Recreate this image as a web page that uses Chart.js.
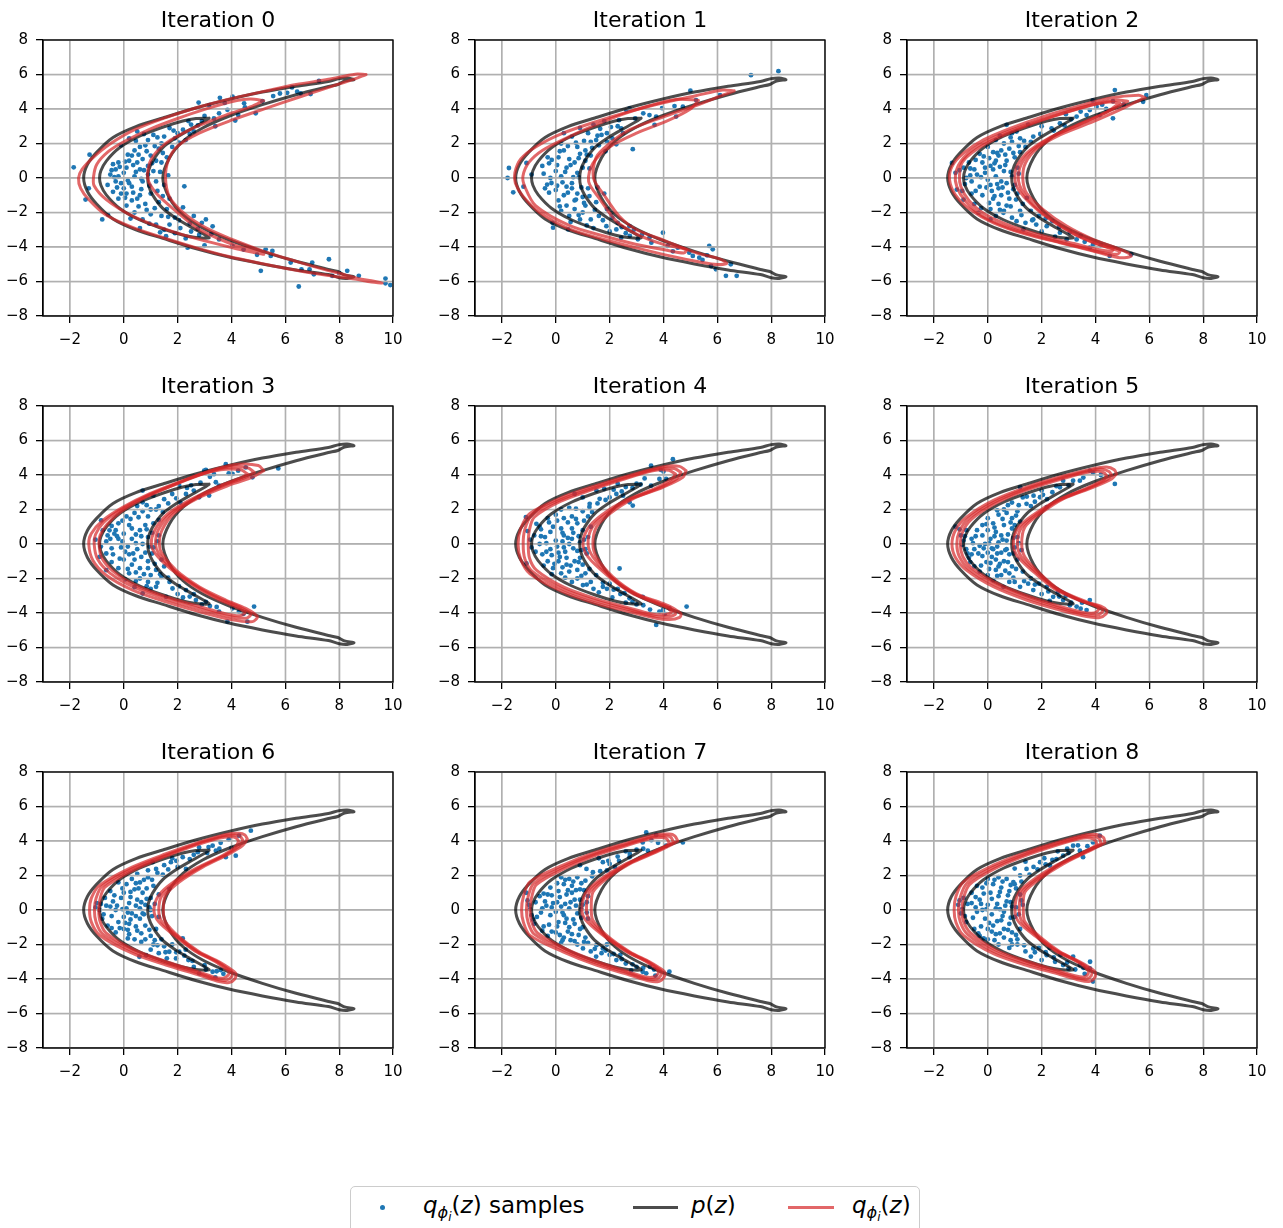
<!DOCTYPE html>
<html><head><meta charset="utf-8">
<script src="https://cdn.jsdelivr.net/npm/chart.js@4.4.0/dist/chart.umd.min.js"></script>
<style>
html,body{margin:0;padding:0;background:#fff;width:1283px;height:1228px;overflow:hidden;position:relative;font-family:"DejaVu Sans",sans-serif;}
canvas.panel{position:absolute;}
#legend{position:absolute;left:350px;top:1186px;width:570px;height:70px;border:1.3px solid #cccccc;border-radius:5px;box-sizing:border-box;background:#fff;}
#legend .it{position:absolute;font-size:23px;line-height:26px;top:5px;white-space:nowrap;color:#000;}
#legend i{font-style:italic;}
#legend sub{font-size:70%;vertical-align:-0.3em;line-height:0;}
#legend sub sub{font-size:75%;vertical-align:-0.25em;}
#legend .ln{position:absolute;height:3px;top:18.5px;}
#legend .dot{position:absolute;width:5px;height:5px;border-radius:50%;background:#1f77b4;left:29px;top:17.5px;}
</style></head>
<body>
<div id="legend">
  <div class="dot"></div>
  <div class="it" style="left:72px"><i>q</i><sub><i>ϕ</i><sub><i>i</i></sub></sub>(<i>z</i>) samples</div>
  <div class="ln" style="left:282px;width:45px;background:rgba(0,0,0,0.7)"></div>
  <div class="it" style="left:340px"><i>p</i>(<i>z</i>)</div>
  <div class="ln" style="left:437px;width:46px;background:rgba(214,39,40,0.7)"></div>
  <div class="it" style="left:501px"><i>q</i><sub><i>ϕ</i><sub><i>i</i></sub></sub>(<i>z</i>)</div>
</div>
<script>
// ---------- tick labels ----------
const xTickValues = [-2, 0, 2, 4, 6, 8, 10];
const yTickValues = [-8, -6, -4, -2, 0, 2, 4, 6, 8];
const iterationTitles = ['Iteration 0','Iteration 1','Iteration 2','Iteration 3','Iteration 4','Iteration 5','Iteration 6','Iteration 7','Iteration 8'];

// ---------- p(z) contours (same in every panel), flat [x,y,...] ----------
const pContourOuter = [8.55,5.7, 8.3,5.8, 8.0,5.76, 7.6,5.6, 6.4,5.32, 5.15,4.98, 3.9,4.55, 2.7,4.07, 1.45,3.48, 0.45,2.98, -0.4,2.35, -1.0,1.5, -1.35,0.78, -1.49,0,
 -1.35,-0.78, -1.0,-1.52, -0.4,-2.37, 0.45,-3.0, 1.45,-3.5, 2.7,-4.1, 3.9,-4.58, 5.15,-4.98, 6.4,-5.33, 7.6,-5.6, 8.0,-5.78, 8.3,-5.82, 8.55,-5.72,
 8.2,-5.62, 7.95,-5.42, 7.6,-5.3, 6.4,-4.83, 5.15,-4.25, 3.9,-3.58, 2.93,-2.9, 2.2,-2.13, 1.7,-1.17, 1.45,0,
 1.7,1.17, 2.2,2.13, 2.93,2.9, 3.9,3.58, 5.15,4.25, 6.4,4.83, 7.6,5.3, 7.95,5.42, 8.2,5.62, 8.55,5.7];
const pContourInner = [3.17,3.47, 2.68,3.45, 2.19,3.3, 1.44,2.94, 0.58,2.42, -0.16,1.75, -0.65,0.98, -0.85,0.42, -0.9,0,
 -0.85,-0.42, -0.65,-0.98, -0.16,-1.75, 0.58,-2.42, 1.44,-2.94, 2.19,-3.3, 2.68,-3.45, 3.17,-3.47,
 2.99,-3.28, 2.56,-2.9, 1.94,-2.33, 1.44,-1.75, 1.07,-0.98, 0.92,-0.42, 0.89,0,
 0.92,0.42, 1.07,0.98, 1.44,1.75, 1.94,2.33, 2.56,2.9, 2.99,3.28, 3.17,3.47];

// ---------- q(z) contours per iteration ----------
const q0a = [9.0,6.0, 8.6,6.02, 7.6,5.72, 6.4,5.42, 5.2,5.02, 3.9,4.57, 2.7,4.07, 1.5,3.47, 0.4,2.8, -0.5,1.98, -1.15,1.17, -1.55,0.5, -1.68,0,
 -1.6,-0.6, -1.3,-1.25, -0.7,-2.1, 0.3,-2.85, 1.5,-3.48, 2.7,-4.05, 3.9,-4.55, 5.2,-4.98, 6.4,-5.35, 7.6,-5.65, 8.6,-5.86, 9.2,-6.03, 9.6,-6.08,
 9.2,-5.96, 8.7,-5.83, 8.2,-5.6, 7.4,-5.28, 6.4,-4.83, 5.2,-4.25, 4.0,-3.55, 3.0,-2.85, 2.2,-2.0, 1.7,-1.1, 1.55,0,
 1.65,1.0, 2.0,1.85, 2.8,2.6, 4.0,3.35, 5.3,4.05, 6.5,4.68, 7.7,5.3, 8.5,5.7, 9.0,6.0];
const q0b = [5.2,4.48, 4.7,4.58, 4.0,4.42, 3.0,3.98, 2.0,3.45, 1.0,2.85, 0.0,2.1, -0.6,1.5, -1.0,0.8, -1.12,0.1, -1.1,-0.45,
 -0.65,-1.25, 0.33,-2.21, 1.57,-2.98, 2.8,-3.56, 4.04,-4.04, 4.8,-4.3, 5.2,-4.42,
 4.7,-4.15, 4.04,-3.85, 2.8,-2.98, 1.94,-1.92, 1.2,-0.87, 0.89,0, 1.01,1.06, 1.57,2.02, 2.56,2.88, 3.79,3.65, 4.78,4.17, 5.2,4.48];
const q1a = [6.63,5.05, 6.2,5.1, 5.2,4.77, 4.0,4.36, 2.75,3.86, 1.5,3.27, 0.27,2.6, -0.72,1.83, -1.3,1.1, -1.52,0.3, -1.5,-0.3,
 -1.22,-1.05, -0.6,-2.0, 0.5,-2.95, 1.75,-3.55, 3.0,-4.05, 4.2,-4.5, 5.45,-4.9, 6.0,-5.02, 6.35,-4.95,
 6.1,-4.7, 5.2,-4.33, 4.0,-3.6, 3.0,-3.0, 2.35,-2.2, 1.8,-1.0, 1.4,0,
 1.5,1.2, 2.0,2.0, 2.75,2.8, 4.0,3.55, 5.2,4.2, 6.2,4.8, 6.63,5.05];
const q1b = [5.3,4.5, 4.5,4.56, 3.5,4.2, 2.5,3.7, 1.5,3.1, 0.5,2.4, -0.5,1.6, -1.0,0.9, -1.22,0.1, -1.15,-0.5,
 -0.75,-1.6, 0.5,-2.75, 1.75,-3.35, 3.0,-3.85, 4.0,-4.15, 4.75,-4.35, 4.85,-4.15,
 4.0,-3.85, 3.0,-3.25, 2.25,-2.5, 1.65,-1.25, 1.22,-0.2, 1.38,0.85, 2.0,1.8, 3.0,2.6, 4.2,3.35, 5.0,4.0, 5.3,4.5];
const q2a = [5.85,4.65, 5.6,4.8, 4.5,4.62, 3.3,4.13, 2.06,3.56, 0.83,2.88, -0.16,2.21, -0.9,1.44, -1.33,0.67, -1.42,-0.1,
 -1.21,-0.96, -0.65,-1.83, 0.21,-2.6, 1.44,-3.27, 2.68,-3.75, 3.91,-4.23, 4.9,-4.62, 5.33,-4.52,
 4.9,-4.13, 3.91,-3.56, 2.93,-2.79, 2.06,-1.83, 1.44,-0.87, 1.3,0,
 1.4,0.87, 1.85,1.73, 2.68,2.5, 3.91,3.27, 5.02,4.04, 5.64,4.52, 5.85,4.65];
const q2b = [5.2,4.45, 4.8,4.52, 3.8,4.22, 2.7,3.72, 1.5,3.12, 0.4,2.47, -0.5,1.72, -1.0,0.97, -1.2,0.2, -1.15,-0.5,
 -0.85,-1.3, -0.2,-2.2, 0.8,-2.9, 2.0,-3.45, 3.2,-3.92, 4.2,-4.3, 4.8,-4.42, 4.9,-4.25,
 4.3,-3.95, 3.3,-3.3, 2.4,-2.45, 1.6,-1.4, 1.18,-0.4, 1.18,0.55, 1.55,1.45, 2.3,2.3, 3.4,3.1, 4.5,3.87, 5.2,4.45];
const q2c = [4.9,4.35, 4.5,4.4, 3.6,4.12, 2.5,3.6, 1.4,3.0, 0.4,2.35, -0.45,1.62, -0.95,0.9, -1.05,0.15, -1.0,-0.5,
 -0.7,-1.3, -0.1,-2.1, 0.9,-2.8, 2.0,-3.33, 3.2,-3.8, 4.1,-4.15, 4.6,-4.25, 4.65,-4.1,
 4.1,-3.85, 3.2,-3.25, 2.3,-2.4, 1.5,-1.35, 1.05,-0.4, 1.05,0.55, 1.45,1.45, 2.2,2.25, 3.3,3.05, 4.4,3.8, 4.9,4.35];
const q3a = [5.2,4.25, 5.0,4.55, 4.28,4.63, 3.42,4.35, 2.19,3.67, 0.95,2.9, -0.04,2.13, -0.78,1.37, -1.21,0.6, -1.3,0,
 -1.15,-0.94, -0.65,-1.81, 0.33,-2.67, 1.57,-3.35, 2.8,-3.92, 4.04,-4.4, 4.78,-4.5, 4.96,-4.21,
 4.53,-3.73, 3.79,-3.25, 2.8,-2.48, 1.94,-1.52, 1.42,-0.56, 1.32,0, 1.42,0.8, 1.85,1.75, 2.7,2.62, 4.04,3.48, 4.78,3.87, 5.2,4.25];
const q3b = [4.85,4.15, 4.6,4.42, 3.9,4.45, 3.0,4.1, 1.9,3.45, 0.8,2.75, -0.1,2.0, -0.75,1.25, -1.05,0.55, -1.1,0,
 -0.98,-0.85, -0.5,-1.7, 0.4,-2.52, 1.6,-3.2, 2.8,-3.75, 3.9,-4.2, 4.55,-4.3, 4.72,-4.05,
 4.3,-3.65, 3.6,-3.2, 2.7,-2.45, 1.85,-1.5, 1.3,-0.56, 1.18,0, 1.28,0.8, 1.72,1.72, 2.55,2.55, 3.8,3.45, 4.5,3.85, 4.85,4.15];
const q3c = [4.6,4.05, 4.35,4.3, 3.6,4.3, 2.7,3.95, 1.7,3.32, 0.7,2.62, -0.1,1.88, -0.62,1.15, -0.88,0.5, -0.92,0,
 -0.82,-0.8, -0.38,-1.6, 0.45,-2.4, 1.6,-3.08, 2.8,-3.62, 3.8,-4.05, 4.35,-4.15, 4.5,-3.95,
 4.1,-3.6, 3.4,-3.12, 2.6,-2.4, 1.75,-1.45, 1.17,-0.55, 1.02,0, 1.15,0.8, 1.6,1.7, 2.4,2.5, 3.6,3.4, 4.3,3.8, 4.6,4.05];
const q4a = [4.84,4.25, 4.6,4.5, 4.0,4.48, 2.74,3.98, 1.51,3.4, 0.27,2.73, -0.96,1.77, -1.3,0.9, -1.4,0,
 -1.3,-0.9, -0.96,-1.73, 0.27,-2.78, 1.51,-3.45, 2.74,-3.93, 3.73,-4.31, 4.22,-4.38, 4.6,-4.25, 4.65,-4.05, 4.4,-3.75, 3.98,-3.44,
 2.99,-2.87, 2.12,-1.9, 1.51,-0.75, 1.38,0, 1.51,0.98, 2.0,1.75, 2.86,2.62, 3.98,3.29, 4.72,3.87, 4.84,4.25];
const q4b = [4.65,4.15, 4.4,4.38, 3.8,4.36, 2.6,3.85, 1.4,3.25, 0.2,2.58, -0.9,1.65, -1.15,0.85, -1.21,0,
 -1.15,-0.85, -0.85,-1.62, 0.3,-2.65, 1.5,-3.3, 2.7,-3.8, 3.65,-4.18, 4.15,-4.22, 4.45,-4.05, 4.25,-3.72, 3.85,-3.45,
 2.9,-2.85, 2.0,-1.85, 1.38,-0.75, 1.2,0, 1.35,0.95, 1.85,1.72, 2.7,2.55, 3.85,3.25, 4.5,3.8, 4.65,4.15];
const q4c = [4.45,4.05, 4.2,4.28, 3.6,4.25, 2.45,3.72, 1.3,3.12, 0.15,2.45, -0.8,1.55, -0.98,0.8, -1.02,0,
 -0.98,-0.8, -0.72,-1.52, 0.32,-2.52, 1.5,-3.18, 2.65,-3.68, 3.55,-4.05, 4.05,-4.1, 4.3,-3.95, 4.1,-3.65, 3.75,-3.45,
 2.8,-2.82, 1.9,-1.8, 1.2,-0.75, 1.01,0, 1.2,0.92, 1.72,1.7, 2.55,2.5, 3.7,3.22, 4.3,3.75, 4.45,4.05];
const q5a = [4.78,4.06, 4.7,4.3, 4.41,4.46, 3.91,4.36, 2.68,3.88, 1.44,3.3, 0.21,2.53, -0.78,1.57, -1.2,0.8, -1.33,0,
 -1.2,-0.78, -0.78,-1.53, 0.21,-2.48, 1.44,-3.25, 2.68,-3.83, 3.67,-4.21, 4.16,-4.26, 4.4,-4.05, 4.41,-3.83, 4.2,-3.6,
 3.67,-3.35, 2.68,-2.67, 1.94,-1.71, 1.38,-0.75, 1.26,0, 1.38,0.98, 1.94,1.75, 2.8,2.62, 3.91,3.29, 4.6,3.77, 4.78,4.06];
const q5b = [4.6,4.0, 4.5,4.2, 4.25,4.34, 3.75,4.25, 2.55,3.75, 1.35,3.16, 0.2,2.4, -0.7,1.5, -1.05,0.75, -1.15,0,
 -1.05,-0.75, -0.7,-1.45, 0.25,-2.36, 1.45,-3.12, 2.65,-3.7, 3.6,-4.08, 4.05,-4.12, 4.25,-3.95, 4.25,-3.78, 4.05,-3.58,
 3.55,-3.33, 2.6,-2.65, 1.85,-1.7, 1.25,-0.75, 1.1,0, 1.25,0.95, 1.82,1.72, 2.68,2.57, 3.8,3.27, 4.45,3.75, 4.6,4.0];
const q5c = [4.42,3.95, 4.32,4.12, 4.1,4.22, 3.6,4.13, 2.45,3.63, 1.3,3.05, 0.2,2.28, -0.62,1.42, -0.93,0.72, -1.02,0,
 -0.93,-0.72, -0.6,-1.38, 0.3,-2.25, 1.45,-3.0, 2.6,-3.58, 3.5,-3.95, 3.95,-4.0, 4.1,-3.85, 4.1,-3.7, 3.9,-3.52,
 3.45,-3.3, 2.5,-2.62, 1.75,-1.68, 1.12,-0.75, 0.95,0, 1.12,0.92, 1.7,1.7, 2.58,2.53, 3.7,3.25, 4.3,3.72, 4.42,3.95];
const q6a = [4.59,4.12, 4.5,4.35, 4.28,4.45, 3.79,4.38, 2.8,3.93, 1.57,3.26, 0.33,2.5, -0.9,1.43, -1.2,0.7, -1.27,0,
 -1.2,-0.72, -0.9,-1.46, 0.33,-2.52, 1.57,-3.19, 2.8,-3.77, 3.54,-4.15, 3.91,-4.2, 4.12,-4.0, 4.16,-3.67, 3.9,-3.35,
 3.54,-3.0, 2.8,-2.42, 2.06,-1.56, 1.55,-0.69, 1.47,0, 1.55,0.85, 2.06,1.62, 2.93,2.48, 3.91,3.25, 4.41,3.73, 4.59,4.12];
const q6b = [4.42,4.05, 4.32,4.27, 4.12,4.35, 3.65,4.27, 2.68,3.82, 1.5,3.14, 0.3,2.38, -0.8,1.38, -1.03,0.68, -1.09,0,
 -1.03,-0.7, -0.78,-1.4, 0.35,-2.4, 1.55,-3.07, 2.75,-3.65, 3.45,-4.02, 3.8,-4.07, 4.0,-3.88, 4.02,-3.62, 3.78,-3.32,
 3.45,-2.98, 2.72,-2.4, 2.0,-1.55, 1.42,-0.69, 1.3,0, 1.42,0.85, 1.95,1.62, 2.82,2.46, 3.8,3.22, 4.28,3.7, 4.42,4.05];
const q6c = [4.27,3.98, 4.17,4.18, 3.98,4.25, 3.52,4.16, 2.57,3.7, 1.43,3.03, 0.3,2.27, -0.7,1.32, -0.88,0.65, -0.93,0,
 -0.88,-0.67, -0.66,-1.33, 0.37,-2.3, 1.53,-2.96, 2.7,-3.54, 3.37,-3.9, 3.7,-3.95, 3.88,-3.77, 3.9,-3.56, 3.67,-3.28,
 3.36,-2.95, 2.64,-2.37, 1.92,-1.53, 1.3,-0.69, 1.12,0, 1.3,0.85, 1.85,1.62, 2.72,2.44, 3.7,3.19, 4.15,3.66, 4.27,3.98];
const q7a = [4.53,4.02, 4.42,4.3, 4.22,4.4, 3.73,4.36, 2.74,3.93, 1.51,3.36, 0.27,2.6, -0.96,1.63, -1.2,0.8, -1.27,0,
 -1.2,-0.72, -0.96,-1.47, 0.27,-2.43, 1.51,-3.2, 2.74,-3.77, 3.48,-4.12, 3.85,-4.13, 4.02,-3.9, 4.04,-3.58, 3.8,-3.3,
 3.48,-3.0, 2.74,-2.42, 1.88,-1.46, 1.38,-0.6, 1.32,0, 1.38,1.04, 1.88,1.81, 2.74,2.67, 3.73,3.35, 4.35,3.83, 4.53,4.02];
const q7b = [4.37,3.95, 4.27,4.22, 4.07,4.3, 3.6,4.24, 2.62,3.8, 1.43,3.22, 0.25,2.47, -0.82,1.55, -1.03,0.75, -1.09,0,
 -1.03,-0.7, -0.8,-1.4, 0.3,-2.32, 1.5,-3.08, 2.68,-3.65, 3.4,-4.0, 3.75,-4.0, 3.9,-3.8, 3.92,-3.55, 3.7,-3.28,
 3.4,-2.98, 2.66,-2.4, 1.8,-1.45, 1.26,-0.6, 1.14,0, 1.25,1.02, 1.77,1.8, 2.63,2.64, 3.62,3.32, 4.22,3.78, 4.37,3.95];
const q7c = [4.22,3.88, 4.12,4.13, 3.93,4.2, 3.48,4.13, 2.52,3.68, 1.36,3.1, 0.25,2.35, -0.72,1.47, -0.9,0.7, -0.96,0,
 -0.9,-0.67, -0.68,-1.33, 0.33,-2.22, 1.5,-2.97, 2.62,-3.54, 3.33,-3.88, 3.65,-3.88, 3.8,-3.7, 3.8,-3.5, 3.6,-3.25,
 3.32,-2.95, 2.58,-2.37, 1.72,-1.43, 1.12,-0.6, 0.97,0, 1.12,1.0, 1.66,1.78, 2.52,2.6, 3.5,3.28, 4.1,3.73, 4.22,3.88];
const q8a = [4.35,3.92, 4.3,4.2, 4.04,4.38, 3.67,4.36, 2.68,3.96, 1.44,3.36, 0.21,2.6, -0.9,1.63, -1.18,0.8, -1.25,0,
 -1.18,-0.72, -0.9,-1.47, 0.21,-2.53, 1.44,-3.2, 2.68,-3.74, 3.42,-4.07, 3.79,-4.13, 3.98,-3.9, 3.98,-3.58, 3.75,-3.3,
 3.42,-3.0, 2.68,-2.42, 1.94,-1.56, 1.38,-0.69, 1.32,0, 1.38,1.04, 1.94,1.81, 2.8,2.67, 3.67,3.35, 4.16,3.73, 4.35,3.92];
const q8b = [4.2,3.86, 4.15,4.12, 3.92,4.28, 3.55,4.25, 2.58,3.84, 1.38,3.23, 0.2,2.47, -0.78,1.55, -1.02,0.75, -1.09,0,
 -1.02,-0.7, -0.76,-1.4, 0.25,-2.42, 1.43,-3.08, 2.63,-3.62, 3.35,-3.95, 3.68,-4.0, 3.85,-3.8, 3.85,-3.55, 3.65,-3.27,
 3.33,-2.97, 2.6,-2.4, 1.86,-1.55, 1.28,-0.69, 1.17,0, 1.27,1.02, 1.83,1.8, 2.68,2.64, 3.55,3.3, 4.03,3.68, 4.2,3.86];
const q8c = [4.05,3.8, 4.0,4.04, 3.8,4.18, 3.43,4.14, 2.48,3.72, 1.32,3.11, 0.2,2.35, -0.68,1.47, -0.9,0.7, -0.96,0,
 -0.9,-0.67, -0.64,-1.33, 0.3,-2.32, 1.43,-2.97, 2.58,-3.5, 3.28,-3.83, 3.58,-3.88, 3.73,-3.7, 3.73,-3.52, 3.55,-3.24,
 3.25,-2.94, 2.52,-2.37, 1.78,-1.53, 1.15,-0.69, 1.01,0, 1.15,1.0, 1.72,1.78, 2.56,2.6, 3.43,3.25, 3.9,3.63, 4.05,3.8];

// ---------- q(z) samples per iteration ----------
const samples0 = [-1.86,0.62, -1.27,1.35, -1.42,-1.25, -1.3,-0.6, -0.8,-2.4, -0.59,-2.12,
 2.78,4.37, 3.57,4.65, 4.04,4.71, 4.47,4.33, 4.9,3.75, 4.14,3.33, 3.54,3.75, 3.17,4.23, 2.9,3.3, 2.5,3.1, 2.2,2.8,
 2.25,-0.48, 3.05,-2.4, 2.37,-4.04, 1.57,-3.37, 3.54,-3.56, 4.04,-3.94, 5.27,-4.13, 5.52,-4.23, 5.46,-4.52, 5.09,-5.38, 6.5,-6.29, 7.0,-4.9, 7.62,-4.71, 7.06,-5.58, 7.74,-5.67, 8.3,-5.38, 8.73,-5.67, 9.72,-5.83, 9.72,-6.1, 9.9,-6.21, 6.6,-5.3,
 6.94,4.87, 6.07,4.94, 6.44,5.0, 6.57,4.9, 7.25,5.63, 5.8,4.9, 4.5,4.1, 3.4,3.0,
 -0.4,0.8, -0.3,0.5, -0.2,0.9, 0.0,0.3, -0.5,0.2, -0.3,-0.2, 0.1,0.6, 0.2,1.0, 0.4,1.6, 0.6,1.8, 0.8,1.9, 1.0,1.3, 1.2,1.0, 1.4,0.9, 1.6,1.2, 1.8,1.8, 1.3,1.7, 0.9,2.2, 1.1,2.5, 1.5,2.4, 1.7,2.9, 2.0,2.6, 2.3,2.2, 0.5,2.7, 0.2,2.3, -0.1,1.9, 0.3,1.3, 0.7,1.1, 0.6,0.5, 0.9,0.2, 1.2,-0.2, 1.5,-0.4, 0.3,-0.5, 0.1,-0.9, 0.5,-1.2, 0.8,-1.5, 0.6,-1.0, 1.0,-0.9, 1.3,-1.4, 1.6,-1.8, 1.9,-2.3, 1.4,-2.2, 1.0,-2.1, 0.7,-2.4, 0.4,-2.0, 0.1,-1.6, -0.2,-1.2, -0.4,-0.8, 1.7,-2.7, 2.1,-2.9, 2.5,-3.1, 2.8,-3.3, 1.2,-2.7, 0.6,-2.9, 1.9,-3.2, 0.9,0.7, 0.4,0.1, -0.6,-0.4, -0.1,-0.3, 0.7,-0.2, 1.1,0.4, 0.2,-0.3, 0.5,0.9, -0.2,0.1, 1.4,2.0, 2.6,2.7, 3.0,3.6, 2.4,3.3, 1.9,2.3, 0.0,-0.6, 1.7,-1.2, 2.2,-1.7, 2.6,-2.2, 3.3,-2.8, 2.9,-2.6, 1.5,-3.0, 2.3,-3.5, 3.0,-3.9, 0.3,-1.3, -0.1,-0.9,
 -0.45,0.45, -0.15,0.65, 0.05,0.95, 0.35,0.75, 0.15,1.35, 0.55,1.35, 0.85,1.55, 1.15,1.85, 1.45,1.45, 1.05,0.85, 0.75,0.45, 0.45,0.35, 0.15,-0.15, -0.35,0.05, -0.25,-0.55, 0.05,-1.15, 0.35,-0.85, 0.65,-0.65, 0.95,-0.45, 1.25,-0.75, 1.45,-1.05, 1.15,-1.75, 0.85,-1.85, 0.55,-1.65, 0.25,-2.35, 1.65,-2.25, 2.05,-2.45, 1.35,-3.15, 0.95,-2.65, 2.45,-2.65, 2.75,-2.95, 3.25,-3.25, 2.05,2.05, 2.45,2.55, 2.75,3.05, 1.85,2.75, 1.25,2.35, 0.75,2.55, 0.45,2.15, 3.35,3.45, 3.85,3.95, 4.25,3.65, 3.75,4.35, 5.15,4.45, 6.25,5.25, 5.55,4.75, 4.45,-4.15, 4.95,-4.45, 6.2,-4.9, 6.9,-5.3, 8.0,-5.5, 0.65,-0.05, 1.35,0.35, 1.65,0.15];
const samples1 = [-1.74,0.58, -1.79,0.0, -1.58,-0.83, -1.09,0.87, -1.2,-0.5, -0.9,0.2, -0.32,-0.38, -0.16,-0.29, -0.1,-2.88, -0.12,-2.6, 0.46,-2.98, 2.86,1.67, 7.25,5.96, 8.27,6.19, 6.1,4.81, 5.0,5.06, 5.21,4.52, 4.41,4.17, 4.72,4.13, 4.47,3.56, 3.73,3.56, 3.67,3.08, 3.48,3.65, 2.74,4.04, 2.62,3.94, 2.43,2.88,
 3.48,-3.46, 4.16,-3.94, 4.53,-4.04, 4.96,-4.33, 5.33,-4.62, 5.7,-3.94, 5.83,-4.13, 5.95,-5.29, 5.77,-5.1, 6.32,-5.67, 6.72,-5.67, 6.5,-5.0, 5.09,-4.52, 5.62,-4.48, 3.98,-3.17, 2.74,-2.79, 2.25,-2.98, 1.88,-2.79, 2.43,-3.46,
 0.1,1.2, 0.3,1.6, 0.5,1.1, 0.7,0.9, 0.9,1.4, 1.1,1.6, 1.3,2.1, 1.5,2.2, 1.7,2.5, 1.9,2.6, 2.1,2.3, 1.6,1.9, 1.2,2.6, 0.9,2.9, 1.4,3.1, 1.8,3.3, 2.3,3.0, 0.6,2.4, 0.2,2.0, -0.3,1.2, -0.5,0.7, 0.0,0.4, 0.2,0.1, 0.4,-0.5, 0.6,-0.3, 0.8,-0.9, 1.0,-1.1, 1.2,-0.6, 0.3,-1.0, 0.1,-1.3, 0.4,-1.6, 0.7,-1.8, 1.0,-2.0, 1.3,-2.4, 1.6,-2.2, 1.9,-1.8, 2.1,-2.3, 0.9,-2.4, 0.5,-2.2, 0.2,-1.9, 1.5,-1.4, 0.8,0.3, 1.0,0.6, 0.4,0.6, -0.2,0.0, 0.0,-0.7, 1.8,-0.9, 2.3,-2.6, 2.6,-3.2, 2.9,-3.0, 3.2,-3.3, 1.4,-2.9, 2.0,-3.1, 0.7,-1.3, 1.1,1.0, 0.3,2.6, 1.9,2.1, 2.5,2.6, 0.8,1.8, 1.3,1.3, -0.4,-0.6, 0.6,-0.6, 1.1,-1.6,
 -0.45,0.25, -0.25,0.85, 0.05,0.75, 0.35,0.35, 0.55,0.75, 0.85,1.15, 1.15,1.35, 1.35,1.75, 1.05,2.15, 0.75,2.05, 0.45,1.85, 0.15,1.55, -0.15,1.05, 0.25,-0.25, 0.45,-0.85, 0.75,-1.25, 1.05,-1.45, 1.25,-1.05, 0.95,-0.55, 0.65,0.05, 0.05,-0.45, -0.25,-0.85, 0.15,-1.65, 0.55,-2.55, 0.85,-2.15, 1.15,-2.75, 1.75,-2.45, 2.05,-2.05, 1.45,-1.85, 2.45,-2.85, 2.75,-3.35, 3.05,-3.55, 1.65,2.85, 2.05,2.95, 2.35,3.35, 2.95,3.45, 3.25,3.75, 3.95,4.05, 1.55,2.45, 1.85,1.55, 2.25,1.95, 1.25,0.55, 0.85,0.05, 1.55,-0.55, 3.55,-3.75, 4.35,-4.25, 5.45,-4.75];
const samples2 = [4.72,5.1, 5.89,4.81, 5.77,4.42, 4.65,3.46, 4.16,3.65, 4.04,4.13, 3.79,3.94, 3.67,3.65, 3.3,3.56, 2.68,3.17, 2.37,2.88, 1.69,2.4, 0.7,3.08, 1.07,2.69, 3.9,4.5, 4.4,4.0, 3.1,3.4, 2.9,3.7, 2.0,3.0, 1.5,3.1, 1.2,2.3, 0.9,2.6,
 5.33,-4.42, 4.53,-4.52, 3.91,-3.85, 3.79,-4.04, 3.3,-3.56, 2.93,-3.56, 2.68,-3.17, 2.19,-2.79, 1.69,-2.4, 1.32,-2.98, 1.07,-2.5, 0.58,-2.02, -0.35,-2.02, 4.2,-3.9, 3.6,-3.7, 2.5,-3.4, 2.0,-3.1, 1.8,-2.7, 1.4,-2.6, 0.9,-2.3, 0.3,-2.2, 0.1,-1.8, 2.4,-2.5, 1.2,-1.9, 0.7,-1.6,
 -1.33,0.87, -1.15,-0.67, -0.9,-1.25, -1.2,0.3, -0.9,0.6, -0.7,0.9, -0.5,0.5, -0.4,0.2, -0.6,-0.2, -0.3,-0.5, -0.1,0.3, 0.1,0.7, 0.3,1.0, 0.2,1.5, 0.5,1.6, 0.8,1.7, 1.0,1.2, 1.2,1.5, 1.4,1.8, 0.6,2.0, 0.3,2.2, 0.0,1.8, -0.3,1.4, 0.6,0.4, 0.3,0.1, 0.1,-0.4, 0.4,-0.6, 0.7,-0.3, 0.9,0.1, 0.5,-1.0, 0.2,-1.2, -0.2,-1.0, 0.8,-1.2, 1.1,-0.9, 1.3,-1.5, 1.6,-1.9, 0.4,-1.5, -0.5,-1.5, 0.0,-0.1, 0.2,0.5, -0.2,0.9, 0.7,1.0, 1.1,0.6, 0.4,1.3, -0.8,0.0, -0.6,-0.9, 1.0,-0.4, 1.6,2.1, 0.9,2.1, 1.9,-2.2, 0.6,-1.9, 0.1,-2.4, -0.1,0.6, 0.5,-0.2,
 -1.05,0.45, -0.85,-0.35, -0.65,0.15, -0.45,-0.75, -0.25,0.05, -0.05,-0.55, 0.15,-0.75, 0.35,-0.35, 0.55,-0.55, 0.75,-0.85, 0.95,-0.65, 0.85,0.35, 0.65,0.75, 0.45,0.65, 0.25,0.85, 0.05,1.15, -0.15,1.25, -0.45,1.05, -0.65,0.55, 0.35,1.45, 0.65,1.35, 0.95,1.45, 1.15,1.85, 0.85,2.35, 0.45,2.45, 1.35,2.15, 1.05,-1.25, 1.45,-1.15, 1.25,-2.15, 0.85,-1.65, 0.45,-1.85, 0.05,-1.45, -0.25,-1.75, 1.65,-2.45, 2.15,-2.35, 2.65,-2.85, 3.05,-3.15, 3.45,-3.35, 1.95,2.55, 2.45,2.75, 2.85,3.05, 3.45,3.85, 4.25,4.25, 4.65,4.45, 5.05,4.25, -0.95,-0.75, 1.15,0.25, 0.25,-1.05];
const samples3 = [3.79,4.63, 2.99,4.25, 3.05,4.29, 3.42,3.58, 3.54,3.38, 4.04,4.06, 4.53,4.44, 4.78,3.87, 5.74,4.38, 2.06,3.38, 2.31,2.9, 2.8,2.71, 3.17,2.81, 0.7,3.1, 0.7,2.42, 2.5,3.4, 1.8,2.9, 1.5,2.6, 1.1,2.8, 2.1,2.4, 3.2,3.9, 2.6,3.1, 1.3,2.2, 3.9,4.1,
 4.84,-3.63, 4.04,-3.73, 3.85,-4.5, 4.59,-4.5, 3.54,-3.92, 4.28,-3.92, 2.68,-3.25, 2.31,-2.67, 1.81,-2.58, 0.7,-2.87, 1.2,-2.48, 1.57,-3.06, 2.9,-3.5, 2.2,-3.1, 1.0,-2.6, 0.4,-2.5, 1.7,-2.2, 2.0,-2.9, 1.4,-1.9, 0.9,-2.2, 3.2,-3.6, 2.6,-2.9,
 -0.84,1.37, -0.78,0.79, -0.53,0.79, -0.35,0.6, -0.9,-0.75, -0.65,-1.52, -0.5,0.3, -0.3,0.8, -0.6,0.5, -0.2,1.2, 0.1,1.6, 0.4,1.8, 0.7,1.9, 0.9,1.6, 1.1,1.2, 1.3,1.4, 1.0,2.0, 0.5,2.2, 0.2,1.1, 0.0,0.6, 0.3,0.3, 0.6,0.8, 0.9,0.4, 1.1,-0.2, 0.8,-0.5, 0.5,-0.3, 0.2,-0.6, 0.0,-0.9, 0.3,-1.2, 0.6,-1.4, 0.9,-1.0, 1.2,-1.5, 1.4,-0.9, 1.0,-1.8, 0.6,-2.0, 0.2,-1.7, -0.2,-1.4, -0.4,-0.6, -0.1,-0.2, 0.4,-0.9, 1.3,0.5, 0.7,0.0, 0.3,0.9, -0.2,0.3, 1.5,-1.3, 0.8,1.1, 1.2,2.0, 0.9,-1.4,
 -1.05,0.25, -0.85,-0.15, -0.65,0.15, -0.45,-0.25, -0.25,0.45, -0.05,0.15, 0.15,-0.15, 0.45,0.05, 0.65,0.45, 0.85,0.85, 1.05,0.65, 1.25,0.15, 1.05,-0.55, 0.65,-0.75, 0.35,-0.55, 0.05,-0.45, -0.15,-0.85, -0.45,-1.05, 0.15,-1.45, 0.45,-1.65, 0.75,-1.75, 1.15,-1.15, 1.35,-1.75, 1.65,-1.95, 1.25,-2.25, 0.85,-2.45, 0.45,-2.15, 0.05,-2.05, -0.45,1.05, -0.05,1.35, 0.25,1.45, 0.55,1.55, 0.85,2.25, 1.45,1.85, 1.65,2.35, 1.95,2.65, 2.35,3.25, 2.85,3.55, 3.35,4.05, 4.25,4.25, 2.05,-2.45, 2.45,-3.05, 3.05,-3.35, 3.45,-3.65, 4.45,-4.05, 0.45,0.55, 0.95,-0.15, -0.65,-0.55];
const samples4 = [3.54,4.54, 4.35,4.92, 3.85,3.77, 4.1,3.77, 3.54,3.38, 2.86,2.23, 2.74,2.42, 2.25,2.9, 1.63,2.62, 1.26,2.33, 1.51,3.1, 2.6,3.3, 2.3,3.5, 2.0,2.7, 3.0,3.5, 3.3,3.8, 4.0,4.2, 1.8,3.2, 1.0,2.7, 0.7,2.9, 2.5,2.8, 3.9,4.3,
 3.73,-4.69, 3.98,-3.83, 3.85,-3.92, 4.86,-3.63, 4.22,-3.73, 3.23,-3.06, 2.74,-3.15, 2.37,-1.42, 1.75,-2.48, 1.01,-2.38, 2.4,-2.9, 2.1,-3.1, 1.6,-2.8, 2.0,-2.3, 1.3,-2.2, 2.6,-3.4, 3.0,-3.5, 1.9,-2.6, 2.3,-2.6, 1.4,-2.6, 0.8,-2.0, 3.5,-3.8,
 -1.11,1.56, -1.09,-1.13, -0.72,1.17, -0.8,0.5, -0.9,-0.2, -0.6,0.0, -0.4,0.4, -0.5,-0.6, -0.3,-1.0, -0.1,-1.4, 0.2,-1.7, 0.5,-1.6, 0.8,-1.5, 1.0,-1.2, 0.7,-1.0, 0.4,-0.8, 0.1,-0.5, -0.2,-0.3, 0.0,0.2, 0.3,0.5, 0.6,0.3, 0.9,0.1, 1.1,-0.3, 0.8,-0.4, 0.5,0.0, 0.2,0.9, -0.1,1.0, -0.3,1.5, 0.0,1.7, 0.3,1.5, 0.6,1.6, 0.8,1.2, 1.0,0.8, 1.2,1.6, 1.0,1.9, 0.5,2.1, 0.2,2.0, -0.2,0.7, 0.4,-1.2, 1.3,1.0, 0.6,0.9, 0.1,-1.0, 1.2,0.4, 0.9,-0.8, -0.6,1.0, 0.3,-0.2, 1.5,-1.8, 1.1,-1.7, 0.6,-2.2,
 -1.05,0.75, -0.95,0.25, -0.75,-0.45, -0.55,0.45, -0.35,0.05, -0.15,-0.65, 0.05,-0.15, 0.25,0.15, 0.45,0.35, 0.65,0.65, 0.85,0.45, 1.05,0.25, 1.15,-0.55, 0.95,-0.35, 0.65,-0.25, 0.35,-0.45, 0.15,-0.75, -0.05,-1.15, 0.25,-1.35, 0.55,-1.25, 0.85,-1.05, 1.25,-1.45, 0.95,-1.85, 0.35,-1.95, -0.15,-1.75, -0.45,-1.25, -0.55,0.85, -0.25,1.25, 0.05,1.35, 0.45,1.25, 0.75,1.45, 1.05,1.35, 1.35,1.85, 0.75,2.05, 1.25,2.15, 1.55,2.35, 1.85,2.55, 2.15,3.15, 2.45,3.05, 2.85,3.25, 3.15,3.45, 1.15,-2.35, 1.75,-2.25, 2.15,-2.65, 2.55,-2.85, 2.85,-3.35, 3.25,-3.55, 4.05,-4.05, 0.25,0.65, -0.35,-0.45];
const samples5 = [4.72,3.48, 3.91,4.15, 3.79,4.25, 3.42,3.67, 3.17,3.67, 2.68,3.29, 2.8,3.67, 2.19,2.13, 1.94,2.71, 1.2,3.29, 1.44,2.33, 2.4,3.0, 2.0,3.1, 1.7,2.8, 2.2,2.6, 1.3,2.7, 3.0,3.4, 4.2,4.0, 0.9,2.4, 1.6,2.2,
 3.67,-3.83, 3.3,-3.63, 3.79,-3.25, 2.8,-3.25, 2.43,-3.06, 2.19,-2.48, 1.69,-2.67, 1.2,-2.48, 0.58,-2.48, 3.1,-3.4, 2.6,-2.8, 2.0,-2.9, 1.9,-2.3, 1.5,-2.3, 2.3,-3.3, 1.0,-2.2, 3.5,-3.4, 1.6,-2.0, 0.8,-2.2, 2.9,-3.0,
 -1.2,1.0, -1.0,0.5, -0.9,0.2, -0.8,-0.3, -0.7,-0.8, -0.5,-1.3, -0.3,-1.6, 0.0,-1.8, 0.3,-1.5, 0.1,-1.1, -0.2,-0.7, -0.5,-0.3, -0.6,0.3, -0.4,0.8, -0.2,1.1, 0.0,1.5, 0.2,1.2, 0.4,1.7, 0.7,1.8, 0.9,1.5, 1.1,1.9, 1.2,1.3, 0.9,0.9, 0.6,1.1, 0.3,0.7, 0.1,0.3, -0.1,0.0, 0.2,-0.3, 0.5,-0.5, 0.8,-0.6, 1.0,-0.2, 0.7,0.2, 0.4,0.1, 0.6,-1.0, 0.9,-1.3, 1.1,-0.9, 1.3,-1.6, 0.5,-1.8, 0.2,-2.1, -0.2,0.5, -0.3,-0.1, 0.0,0.8, 0.5,0.5, 1.1,0.4, 0.8,-1.7, 0.3,-0.9, -0.6,-0.6, -0.8,0.8, 0.6,2.0, 0.0,-0.5, 1.0,1.1, 0.4,-1.3, 0.7,-0.3,
 -1.05,0.85, -0.95,-0.05, -0.85,0.45, -0.75,-0.55, -0.55,0.05, -0.45,0.45, -0.35,-0.55, -0.15,-0.25, 0.05,0.05, 0.25,0.45, 0.35,-0.15, 0.55,0.25, 0.75,0.55, 0.95,0.35, 1.15,0.05, 1.25,-0.35, 0.95,-0.55, 0.65,-0.35, 0.35,-0.55, 0.15,-0.75, -0.05,-1.05, -0.25,-1.25, 0.05,-1.45, 0.45,-1.15, 0.75,-1.05, 1.05,-1.45, 0.65,-1.55, 0.35,-1.85, -0.05,1.15, 0.25,0.95, 0.55,1.45, 0.85,1.25, 1.05,1.65, 0.35,1.95, 0.75,2.25, 1.15,2.25, 1.45,2.75, 1.75,2.45, 2.05,2.85, 2.55,3.35, 3.55,3.85, 0.95,-1.95, 1.35,-2.15, 1.75,-2.35, 2.25,-2.75, 2.65,-3.05, 3.05,-3.55, 3.45,-3.75, -0.65,-1.05, 0.15,-0.25];
const samples6 = [4.72,4.6, 4.28,4.31, 4.16,3.15, 3.79,3.06, 3.42,3.44, 3.3,3.73, 2.8,3.63, 2.31,2.38, 2.19,3.06, 1.75,2.77, 1.69,1.23, 1.2,2.38, 1.07,2.77, 3.9,4.1, 3.6,3.9, 2.6,3.2, 2.0,2.5, 1.5,2.6, 3.1,3.3, 1.8,3.0, 0.9,2.3, 4.0,3.6,
 3.6,-3.48, 3.3,-3.58, 2.8,-3.67, 2.19,-1.65, 2.06,-2.42, 1.69,-2.42, 1.94,-2.81, 0.83,-2.62, 0.58,-2.71, 3.7,-3.7, 3.0,-3.2, 2.4,-2.9, 1.5,-2.1, 1.3,-2.5, 1.1,-2.0, 2.3,-2.3, 1.8,-2.0, 3.4,-3.9, 2.6,-3.3, 1.6,-2.8, 1.0,-2.3,
 -1.0,0.4, -0.9,0.0, -0.8,-0.5, -0.7,0.7, -0.5,1.1, -0.6,-0.9, -0.3,-1.3, 0.0,-1.1, 0.2,-1.4, 0.5,-1.2, 0.8,-0.9, 1.0,-1.5, 1.2,-1.1, 0.6,-0.5, 0.3,-0.2, 0.0,-0.4, -0.3,0.0, -0.4,0.5, -0.1,0.7, 0.2,0.4, 0.5,0.6, 0.8,0.3, 1.0,0.7, 0.7,1.0, 0.4,1.2, 0.1,1.5, -0.2,1.6, 0.3,1.8, 0.6,1.6, 0.9,1.9, 1.1,1.4, 1.3,0.9, 1.3,-0.4, 1.0,0.0, 0.6,0.1, 0.2,-0.8, -0.2,-0.7, 0.4,-1.7, 0.8,-1.7, 0.0,1.0, -0.5,0.2, 0.5,2.1, 0.7,-0.2, 1.4,-1.7, 0.1,0.1,
 -1.05,0.15, -0.85,0.35, -0.75,-0.25, -0.65,0.25, -0.45,-0.35, -0.25,0.25, -0.05,0.05, 0.15,-0.15, 0.45,0.25, 0.65,0.45, 0.85,0.65, 1.15,0.35, 1.05,-0.35, 0.75,-0.25, 0.45,-0.35, 0.25,-0.55, 0.05,-0.75, -0.15,-1.05, 0.15,-1.15, 0.45,-0.95, 0.65,-1.35, 0.95,-1.15, 1.15,-1.75, 0.65,-1.85, 0.15,-1.65, -0.45,-1.05, -0.35,0.85, -0.05,1.25, 0.25,1.05, 0.55,1.25, 0.85,1.25, 1.05,1.75, 0.75,1.75, 0.45,1.55, 1.25,2.15, 1.45,2.05, 1.65,2.35, 1.95,2.85, 2.45,2.95, 2.75,3.35, 3.15,3.65, 3.55,3.55, 1.25,-2.05, 1.55,-2.45, 1.95,-2.45, 2.25,-2.65, 2.55,-2.95, 3.05,-3.45, 3.45,-3.55, 0.25,0.75, 0.95,0.15];
const samples7 = [3.36,4.5, 3.73,4.35, 4.1,3.73, 4.72,3.92, 3.42,3.44, 3.23,3.92, 2.74,3.06, 2.0,2.67, 1.75,2.77, 1.14,2.38, 1.38,2.19, 2.3,3.1, 2.6,3.4, 3.0,3.5, 1.9,2.3, 1.6,3.0, 3.8,3.9, 2.2,2.5, 0.9,2.6,
 3.36,-3.67, 3.23,-3.58, 4.22,-3.58, 2.25,-2.9, 1.75,-2.23, 1.51,-2.04, 1.01,-2.23, 3.7,-3.8, 3.0,-3.3, 2.6,-3.1, 2.0,-2.6, 1.7,-2.5, 1.3,-2.4, 1.9,-2.0, 2.4,-2.6, 1.2,-1.9, 0.8,-2.0, 2.8,-3.5, 1.5,-2.7, 3.5,-3.3,
 -1.1,1.0, -1.0,0.3, -0.9,-0.3, -0.8,-0.8, -0.6,0.8, -0.5,-1.2, -0.3,-1.5, 0.0,-1.3, 0.3,-1.6, 0.6,-1.4, 0.9,-1.1, 1.1,-1.6, 0.7,-0.8, 0.4,-0.5, 0.1,-0.7, -0.2,-0.3, -0.5,0.1, -0.4,0.5, -0.1,0.4, 0.2,0.2, 0.5,0.1, 0.8,-0.2, 1.0,0.3, 0.7,0.6, 0.4,0.9, 0.1,1.1, -0.2,1.3, 0.3,1.5, 0.6,1.4, 0.9,1.2, 1.1,1.7, 0.8,1.9, 0.5,1.8, 0.2,1.9, -0.3,0.9, 0.0,-0.1, 1.2,-0.5, 1.0,-1.0, 0.5,-1.0, 0.2,-1.9, 0.7,-1.8, -0.7,-0.4, 1.2,0.8, 0.6,1.0, 0.3,-0.3, 0.9,0.6,
 -1.05,0.55, -0.95,0.05, -0.85,-0.55, -0.75,0.45, -0.55,-0.15, -0.35,0.25, -0.15,0.15, 0.05,0.45, 0.35,0.35, 0.55,0.45, 0.75,0.25, 0.95,0.05, 1.15,-0.15, 0.95,-0.45, 0.65,-0.55, 0.35,-0.75, 0.05,-0.95, -0.25,-0.85, -0.15,-1.25, 0.15,-1.45, 0.45,-1.25, 0.85,-1.45, 1.05,-1.85, 0.55,-1.75, 0.25,-1.75, -0.45,-0.95, -0.45,0.95, -0.15,0.85, 0.15,0.75, 0.45,1.15, 0.75,1.15, 1.05,1.15, 0.95,1.55, 0.65,1.65, 0.35,1.75, 0.05,1.55, 1.35,1.95, 1.65,2.25, 1.95,2.85, 2.35,2.85, 2.75,3.25, 3.25,3.55, 3.55,4.05, 1.45,-2.25, 1.85,-2.35, 2.15,-2.55, 2.45,-2.85, 2.85,-3.15, 3.25,-3.35, 3.65,-3.45, 1.15,0.45, 0.25,-0.15];
const samples8 = [4.16,4.31, 3.91,3.92, 3.42,3.44, 3.54,3.06, 3.17,3.73, 2.8,3.15, 2.31,2.58, 1.94,2.77, 1.44,2.38, 1.2,2.0, 0.95,1.62, 2.6,3.4, 3.0,3.3, 2.1,3.0, 1.7,2.5, 3.7,3.7, 1.4,2.8, 2.4,2.9, 1.0,2.4,
 3.91,-4.15, 3.79,-3.38, 3.42,-3.19, 3.17,-2.71, 2.8,-3.19, 2.19,-2.62, 1.69,-2.23, 3.6,-3.7, 3.0,-3.4, 2.5,-3.0, 2.0,-2.9, 1.9,-2.2, 1.4,-2.4, 1.1,-2.0, 2.3,-2.2, 1.6,-2.7, 0.8,-2.2, 3.8,-3.0, 2.7,-2.6,
 -1.1,0.3, -1.0,-0.2, -0.9,0.7, -0.8,-0.7, -0.6,1.0, -0.5,-1.1, -0.3,-1.5, 0.0,-1.7, 0.3,-1.4, 0.6,-1.6, 0.9,-1.3, 1.1,-1.7, 0.8,-0.8, 0.5,-0.6, 0.2,-0.9, -0.1,-0.5, -0.4,-0.1, -0.6,0.4, -0.3,0.6, 0.0,0.3, 0.3,0.1, 0.6,-0.1, 0.9,0.2, 1.0,-0.4, 0.7,0.5, 0.4,0.8, 0.1,1.0, -0.2,1.3, 0.2,1.5, 0.5,1.3, 0.8,1.1, 1.0,1.5, 0.7,1.8, 0.4,1.9, 0.0,1.8, -0.4,1.4, 1.2,0.9, 0.6,-1.1, 0.0,-1.1, -0.2,0.0, 1.2,-1.1, 0.4,-2.0, 0.9,-2.0, 1.3,0.3,
 -1.05,0.55, -0.95,0.05, -0.85,-0.35, -0.75,0.35, -0.55,-0.45, -0.45,0.15, -0.25,0.35, -0.05,0.05, 0.15,-0.25, 0.45,0.05, 0.65,0.25, 0.85,0.45, 1.05,0.15, 1.15,-0.25, 0.85,-0.45, 0.55,-0.35, 0.35,-0.65, 0.05,-0.75, -0.25,-0.95, -0.35,-1.35, 0.15,-1.25, 0.45,-1.35, 0.75,-1.15, 1.05,-1.45, 0.85,-1.75, 0.25,-1.75, -0.15,-1.65, -0.45,0.75, -0.15,0.95, 0.15,0.65, 0.45,1.05, 0.75,0.85, 1.05,1.25, 0.85,1.45, 0.55,1.65, 0.25,1.75, -0.05,1.55, 1.25,1.65, 1.55,2.05, 1.85,2.35, 2.15,2.65, 2.55,2.95, 2.95,3.55, 3.35,3.75, 1.35,-2.05, 1.75,-2.45, 2.15,-2.45, 2.45,-2.75, 2.95,-3.05, 3.25,-3.45, 3.55,-3.35, 1.25,0.55, 0.35,0.35];

const qContoursByIteration = [[q0a,q0b],[q1a,q1b],[q2a,q2b,q2c],[q3a,q3b,q3c],[q4a,q4b,q4c],[q5a,q5b,q5c],[q6a,q6b,q6c],[q7a,q7b,q7c],[q8a,q8b,q8c]];
const samplesByIteration = [samples0,samples1,samples2,samples3,samples4,samples5,samples6,samples7,samples8];

// ---------- styling / layout ----------
const BLUE = '#1f77b4', RED = 'rgba(214,39,40,0.7)', BLACK = 'rgba(0,0,0,0.7)', GRID = '#b0b0b0';
const FONT = 'DejaVu Sans';
const colLeft = [0, 432, 864], rowTop = [0, 366, 732];
const CW = 413, CH = 346;

function toPts(flat){ const out=[]; for(let i=0;i<flat.length;i+=2) out.push({x:flat[i], y:flat[i+1]}); return out; }
const fmt = v => (v < 0 ? '\u2212' + Math.abs(v) : String(v));

const gridOverScatter = {
  id: 'gridOverScatter',
  afterDatasetDraw(chart, args) {
    if (args.meta._dataset && args.meta._dataset.isSamples) {
      const {ctx, chartArea: a, scales: {x, y}} = chart;
      ctx.save(); ctx.strokeStyle = GRID; ctx.lineWidth = 1.3;
      ctx.beginPath();
      xTickValues.forEach(v => { const p = x.getPixelForValue(v); ctx.moveTo(p, a.top); ctx.lineTo(p, a.bottom); });
      yTickValues.forEach(v => { const p = y.getPixelForValue(v); ctx.moveTo(a.left, p); ctx.lineTo(a.right, p); });
      ctx.stroke(); ctx.restore();
    }
  }
};
const frameBox = {
  id: 'frameBox',
  afterDatasetsDraw(chart) {
    const {ctx, chartArea: a} = chart;
    ctx.save(); ctx.strokeStyle = '#000'; ctx.lineWidth = 1.3;
    ctx.strokeRect(a.left, a.top, a.right - a.left, a.bottom - a.top);
    ctx.restore();
  }
};

for (let i = 0; i < 9; i++) {
  const cv = document.createElement('canvas');
  cv.className = 'panel'; cv.width = CW; cv.height = CH;
  cv.style.left = colLeft[i % 3] + 'px'; cv.style.top = rowTop[Math.floor(i / 3)] + 'px';
  cv.style.width = CW + 'px'; cv.style.height = CH + 'px';
  document.body.appendChild(cv);
  const lineDs = (arr, color, order) => ({ data: toPts(arr), showLine: true, borderColor: color, borderWidth: 3,
    pointRadius: 0, pointHoverRadius: 0, tension: 0.3, fill: false, order, borderJoinStyle: 'round', borderCapStyle: 'round' });
  const datasets = [];
  qContoursByIteration[i].forEach(c => datasets.push(lineDs(c, RED, 0)));
  datasets.push(lineDs(pContourOuter, BLACK, 1));
  datasets.push(lineDs(pContourInner, BLACK, 1));
  datasets.push({ data: toPts(samplesByIteration[i]), isSamples: true, showLine: false, pointRadius: 2.4, pointHoverRadius: 2.4,
    pointBackgroundColor: BLUE, pointBorderWidth: 0, order: 2 });
  new Chart(cv, {
    type: 'scatter',
    data: { datasets },
    options: {
      responsive: false, animation: false, devicePixelRatio: 1, events: [],
      layout: { padding: { left: 0, right: 20, top: 0, bottom: 0 } },
      plugins: {
        legend: { display: false }, tooltip: { enabled: false },
        title: { display: true, text: iterationTitles[i], fullSize: false, color: '#000',
          font: { family: FONT, size: 22, weight: 'normal', lineHeight: 1.2 }, padding: { top: 7.8, bottom: 5.8 } }
      },
      scales: {
        x: { type: 'linear', position: 'bottom', min: -3, max: 10,
          afterBuildTicks: s => { s.ticks = xTickValues.map(v => ({ value: v })); },
          afterFit: s => { s.height = 30; },
          ticks: { callback: fmt, color: '#000', font: { family: FONT, size: 15 }, padding: 8.5, maxRotation: 0, autoSkip: false },
          grid: { color: GRID, lineWidth: 1.3, drawTicks: true, tickLength: 7, tickColor: '#000', tickWidth: 1.3 },
          border: { display: true, color: '#000', width: 1.3 } },
        y: { type: 'linear', position: 'left', min: -8, max: 8,
          afterBuildTicks: s => { s.ticks = yTickValues.map(v => ({ value: v })); },
          afterFit: s => { s.width = 43; },
          ticks: { callback: fmt, color: '#000', font: { family: FONT, size: 15 }, padding: 8, autoSkip: false },
          grid: { color: GRID, lineWidth: 1.3, drawTicks: true, tickLength: 7, tickColor: '#000', tickWidth: 1.3 },
          border: { display: true, color: '#000', width: 1.3 } }
      }
    },
    plugins: [gridOverScatter, frameBox]
  });
}
</script>
</body></html>
